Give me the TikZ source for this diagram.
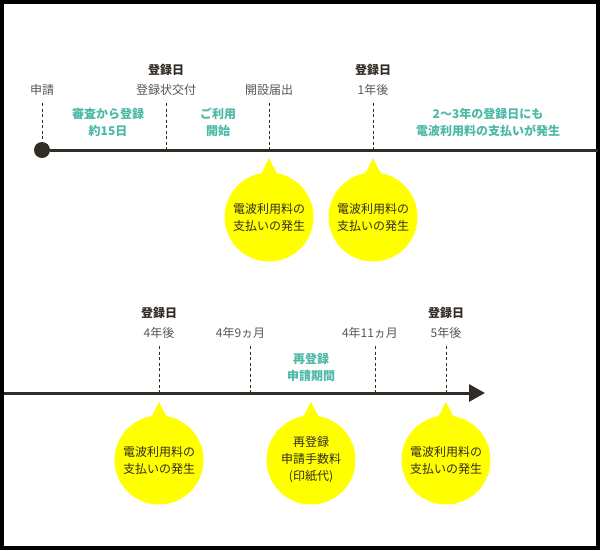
\documentclass[tikz,border=0pt]{standalone}
\usepackage{fontspec}
\setmainfont{Noto Sans CJK JP}
\usetikzlibrary{arrows.meta, positioning, calc}
\definecolor{tlline}{HTML}{332C24}
\definecolor{tlgray}{HTML}{555555}
\definecolor{tlteal}{HTML}{4CB9A6}
\definecolor{tlyellow}{HTML}{FFFF00}

\begin{document}
\begin{tikzpicture}[x=1pt, y=-1pt,
  every node/.style={font=\fontsize{12}{17}\selectfont, inner sep=0pt, align=center},
  datelabel/.style={text=tlgray},
  regday/.style={text=tlline, font=\fontsize{12}{17}\selectfont\bfseries},
  period/.style={text=tlteal, font=\fontsize{12}{17}\selectfont\bfseries},
  tickline/.style={tlline, line width=1pt, dash pattern=on 3pt off 2.5pt},
  axis/.style={tlline, line width=3pt},
  bubble/.style={circle, fill=tlyellow, minimum size=89pt, text=tlline},
  pointer/.style={fill=tlyellow},
]
\useasboundingbox (0,0) rectangle (600,550);
\draw[line width=4pt] (2,2) rectangle (598,548);

% First year
\node[circle, fill=tlline, minimum size=16pt] (start) at (42,150) {};
\coordinate (end1) at (598,150);
\draw[axis] (start) -- (end1);

\coordinate (a1) at (166,150);
\coordinate (a2) at (269,150);
\coordinate (a3) at (373,150);
\coordinate (t0) at (42,103);
\coordinate (t1) at (166,103);
\coordinate (t2) at (269,103);
\coordinate (t3) at (373,103);
\draw[tickline] (t0) -- (start.center);
\draw[tickline] (t1) -- (a1);
\draw[tickline] (t2) -- (a2);
\draw[tickline] (t3) -- (a3);

\node[datelabel] (apply) at (42,90) {申請};
\node[regday] (reg0) at (166,70) {登録日};
\node[datelabel] (cert) at (166,90) {登録状交付};
\node[datelabel] (open) at (269,90) {開設届出};
\node[regday] (reg1) at (373,70) {登録日};
\node[datelabel] (year1) at (373,90) {1年後};

\node[period] (review) at (108,122.5) {審査から登録\\約15日};
\node[period] (use) at (218,122.5) {ご利用\\開始};
\node[period] (later) at (488,122.5) {2〜3年の登録日にも\\電波利用料の支払いが発生};

% Fee bubbles, first year
\node[bubble] (fee1) at (269,217) {電波利用料の\\支払いの発生};
\node[bubble] (fee2) at (373,217) {電波利用料の\\支払いの発生};
\coordinate (p1) at (269,158);
\coordinate (p2) at (373,158);
\fill[pointer] (p1) -- ($(fee1.north)+(-9,4)$) -- ($(fee1.north)+(9,4)$) -- cycle;
\fill[pointer] (p2) -- ($(fee2.north)+(-9,4)$) -- ($(fee2.north)+(9,4)$) -- cycle;

% Fifth year
\coordinate (begin2) at (4,393);
\coordinate (end2) at (485,393);
\draw[axis, -{Triangle[length=16pt, width=17pt]}] (begin2) -- (end2);

\coordinate (b1) at (159,393);
\coordinate (b2) at (250,393);
\coordinate (b3) at (375,393);
\coordinate (b4) at (446,393);
\coordinate (s1) at (159,346);
\coordinate (s2) at (250,346);
\coordinate (s3) at (375,346);
\coordinate (s4) at (446,346);
\draw[tickline] (s1) -- (b1);
\draw[tickline] (s2) -- (b2);
\draw[tickline] (s3) -- (b3);
\draw[tickline] (s4) -- (b4);

\node[regday] (reg4) at (159,313) {登録日};
\node[datelabel] (year4) at (159,333) {4年後};
\node[datelabel] (m9) at (240.5,333) {4年9ヵ月};
\node[datelabel] (m11) at (370,333) {4年11ヵ月};
\node[regday] (reg5) at (446,313) {登録日};
\node[datelabel] (year5) at (446,333) {5年後};

\node[period] (renew) at (311,367.5) {再登録\\申請期間};

% Fee bubbles, fifth year
\node[bubble] (fee3) at (159,460) {電波利用料の\\支払いの発生};
\node[bubble] (fee4) at (311,460) {再登録\\申請手数料\\(印紙代)};
\node[bubble] (fee5) at (446,460) {電波利用料の\\支払いの発生};
\coordinate (p3) at (159,402);
\coordinate (p4) at (311,402);
\coordinate (p5) at (446,402);
\fill[pointer] (p3) -- ($(fee3.north)+(-9,4)$) -- ($(fee3.north)+(9,4)$) -- cycle;
\fill[pointer] (p4) -- ($(fee4.north)+(-9,4)$) -- ($(fee4.north)+(9,4)$) -- cycle;
\fill[pointer] (p5) -- ($(fee5.north)+(-9,4)$) -- ($(fee5.north)+(9,4)$) -- cycle;

\end{tikzpicture}
\end{document}
